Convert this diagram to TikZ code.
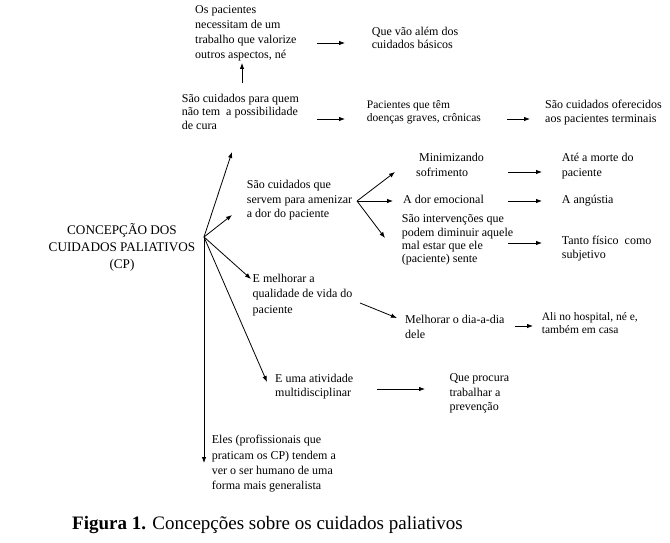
\documentclass[tikz,border=0pt]{standalone}
\usepackage{fontspec}
\setmainfont{Liberation Serif}
\usetikzlibrary{arrows.meta}
\begin{document}
\begin{tikzpicture}[x=1bp,y=-1bp,
  txt/.style={anchor=north west, inner sep=0pt, align=left, font=\fontsize{12bp}{14bp}\selectfont},
  ls/.style={font=\fontsize{12bp}{#1bp}\selectfont},
  arr/.style={-{Latex[length=6bp,width=4.5bp]}, line width=0.8bp},
]
\useasboundingbox[fill=white] (0,0) rectangle (670,543);

% text nodes
\node[inner sep=0pt, anchor=north, align=center, font=\fontsize{13.2bp}{17bp}\selectfont] (cp) at (122,223.5) {CONCEPÇÃO DOS\\CUIDADOS PALIATIVOS\\(CP)};
\node[txt, ls=15] (os) at (195,5.5) {Os pacientes\\necessitam de um\\trabalho que valorize\\outros aspectos, né};
\node[txt, ls=13.4] (que) at (371.7,26.8) {Que vão além dos\\cuidados básicos};
\node[txt, ls=13.4] (para) at (181.7,94) {São cuidados para quem\\não tem \ a possibilidade\\de cura};
\node[txt, font=\fontsize{11.5bp}{13.5bp}\selectfont] (pac) at (366.7,100) {Pacientes que têm\\doenças graves, crônicas};
\node[txt, ls=14.3] (ofer) at (545,99.5) {São cuidados oferecidos\\aos pacientes terminais};
\node[txt, ls=14.6] (amen) at (246.7,180) {São cuidados que\\servem para amenizar\\a dor do paciente};
\node[txt, ls=15] (mini) at (416,152.5) {\ Minimizando\\sofrimento};
\node[txt, ls=15] (ate) at (561.7,152.8) {Até a morte do\\paciente};
\node[txt] (dor) at (403,194.5) {A dor emocional};
\node[txt] (ang) at (561.7,194.5) {A angústia};
\node[txt, ls=13.4] (interv) at (401.7,214.5) {São intervenções que\\podem diminuir aquele\\mal estar que ele\\(paciente) sente};
\node[txt, ls=13.4] (tanto) at (561.7,236.2) {Tanto físico \ como\\subjetivo};
\node[txt, ls=15.7] (melh) at (252.5,273.5) {E melhorar a\\qualidade de vida do\\paciente};
\node[txt, ls=15] (dia) at (405,314.5) {Melhorar o dia-a-dia\\dele};
\node[txt, font=\fontsize{11.5bp}{12.5bp}\selectfont] (ali) at (541.7,312.8) {Ali no hospital, né e,\\também em casa};
\node[txt, ls=14] (ativ) at (275,373.8) {E uma atividade\\multidisciplinar};
\node[txt, ls=14.5] (prev) at (449.3,373.8) {Que procura\\trabalhar a\\prevenção};
\node[txt, ls=15.3] (eles) at (211.7,435.2) {Eles (profissionais que\\praticam os CP) tendem a\\ver o ser humano de uma\\forma mais generalista};
\node[inner sep=0pt, anchor=base west, font=\fontsize{19bp}{22bp}\selectfont] (cap) at (72,529) {\textbf{Figura 1.} Concepções sobre os cuidados paliativos};

% connector points
\coordinate (hub) at (204,237);
\coordinate (hubB) at (357,201);
\coordinate (toPara) at (232,152);
\coordinate (toAmen) at (232,215);
\coordinate (toMelh) at (251,279);
\coordinate (toAtiv) at (267,382);
\coordinate (toEles) at (204,463);
\coordinate (paraUp) at (242,83);
\coordinate (toOs) at (242,63);
\coordinate (osR) at (317,43);
\coordinate (toQue) at (345,43);
\coordinate (paraR) at (317,119);
\coordinate (toPac) at (345,119);
\coordinate (pacR) at (507,119);
\coordinate (toOfer) at (530,119);
\coordinate (toMini) at (395,172);
\coordinate (toDor) at (393,201);
\coordinate (toInterv) at (385,238);
\coordinate (miniR) at (508,172);
\coordinate (toAte) at (542,172);
\coordinate (dorR) at (508,201);
\coordinate (toAng) at (542,201);
\coordinate (intervR) at (508,243);
\coordinate (toTanto) at (542,243);
\coordinate (melhR) at (360,303);
\coordinate (toDia) at (397,318);
\coordinate (diaR) at (515,326);
\coordinate (toAli) at (533,326);
\coordinate (ativR) at (377,389);
\coordinate (toPrev) at (425,389);

% connectors
\draw[arr] (hub) -- (toPara);
\draw[arr] (hub) -- (toAmen);
\draw[arr] (hub) -- (toMelh);
\draw[arr] (hub) -- (toAtiv);
\draw[arr] (hub) -- (toEles);
\draw[arr] (paraUp) -- (toOs);
\draw[arr] (osR) -- (toQue);
\draw[arr] (paraR) -- (toPac);
\draw[arr] (pacR) -- (toOfer);
\draw[arr] (hubB) -- (toMini);
\draw[arr] (hubB) -- (toDor);
\draw[arr] (hubB) -- (toInterv);
\draw[arr] (miniR) -- (toAte);
\draw[arr] (dorR) -- (toAng);
\draw[arr] (intervR) -- (toTanto);
\draw[arr] (melhR) -- (toDia);
\draw[arr] (diaR) -- (toAli);
\draw[arr] (ativR) -- (toPrev);
\end{tikzpicture}
\end{document}
